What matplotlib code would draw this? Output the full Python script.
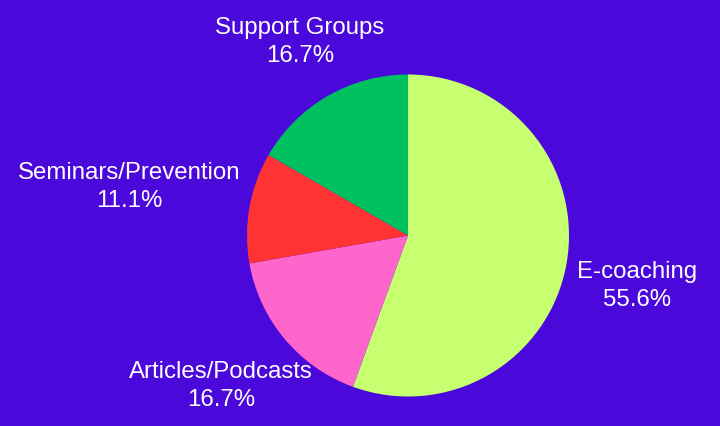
import numpy as np
import matplotlib
matplotlib.use("Agg")
import matplotlib.pyplot as plt

# share of coaching formats
labels = ["E-coaching", "Articles/Podcasts", "Seminars/Prevention", "Support Groups"]
counts = [10, 3, 2, 3]
colors = ["#C6FF70", "#FF66CC", "#FF3333", "#00C060"]
bg = "#4B08DB"

plt.rcParams['font.family'] = ['Liberation Sans', 'DejaVu Sans']

fig = plt.figure(figsize=(7.2, 4.27), dpi=100, facecolor=bg)
r_px = 161
cx, cy = 408, 427 - 236.5
ax = fig.add_axes([(cx - r_px) / 720, (cy - r_px) / 427, 2 * r_px / 720, 2 * r_px / 427])
ax.set_facecolor(bg)
wedges, _ = ax.pie(counts, colors=colors, startangle=90, counterclock=False)
ax.set_xlim(-1, 1)
ax.set_ylim(-1, 1)
ax.axis('off')

# labels outside, pushed away from the pie by their own size
fig.canvas.draw()
renderer = fig.canvas.get_renderer()
total = sum(counts)
for w, lab, c in zip(wedges, labels, counts):
    mid = np.deg2rad((w.theta1 + w.theta2) / 2)
    cs, sn = np.cos(mid), np.sin(mid)
    t = ax.text(0, 0, f"{lab}\n{c / total * 100:.1f}%", ha='center', va='center',
                color='white', fontsize=17.3, linespacing=1.35)
    bb = t.get_window_extent(renderer)
    hw, hh = bb.width / 2, bb.height / 2
    x = 1.08 * cs + hw * cs * abs(cs) / r_px
    y = 1.08 * sn + 1.9 * hh * np.sign(sn) * np.sqrt(abs(sn)) / r_px
    t.set_position((x, y))

fig.savefig("out.png", dpi=100, facecolor=bg)
